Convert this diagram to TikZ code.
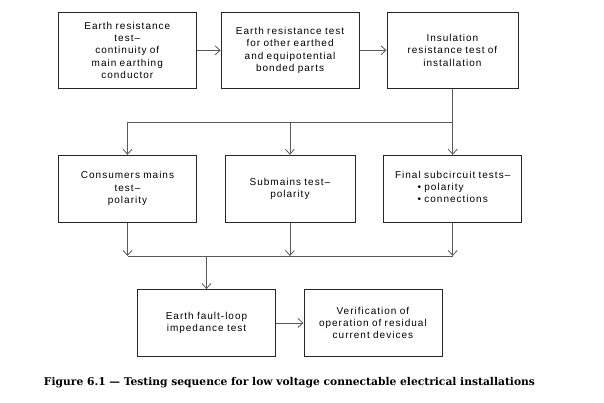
\documentclass[tikz,border=0pt]{standalone}
\usepackage{fontspec}
\setmainfont{DejaVu Serif}
\setsansfont{Liberation Sans}[LetterSpace=10]
\usetikzlibrary{arrows.meta,positioning}

\begin{document}
\begin{tikzpicture}[
    x=1pt, y=-1pt,
    node distance=27pt,
    >={Straight Barb[length=5pt, width=9pt]},
    line width=0.8pt,
    box/.style={
        rectangle, draw=black!85, text width=134pt, align=center,
        minimum width=138pt, minimum height=67pt, inner sep=2pt,
        font=\sffamily\fontsize{10}{12.3}\selectfont
    },
    tallbox/.style={box, minimum height=76pt},
    link/.style={->, draw=black!65}
]
    \useasboundingbox (0,0) rectangle (604,403);

    % first row
    \node [tallbox] (resist) at (127.3,50.3) {Earth resistance\\test--\\continuity of\\main earthing\\conductor};
    \node [tallbox, right=24pt of resist] (bonded) {Earth resistance test\\for other earthed\\and equipotential\\bonded parts};
    \node [tallbox, minimum width=131pt, text width=127pt, right=27pt of bonded] (insul) {Insulation\\resistance test of\\installation};

    % second row
    \node [box] (mains) at (127.5,188.7) {Consumers mains\\test--\\polarity};
    \node [box, minimum width=130pt, text width=126pt, right=27.6pt of mains] (submains) {Submains test--\\polarity};
    \node [box, minimum width=137pt, right=28pt of submains] (final) {Final subcircuit tests--\\
        \begin{tabular}[t]{@{}l@{}}\textbullet{} polarity\\\textbullet{} connections\end{tabular}};

    % third row
    \node [box] (loop) at (206.5,323) {Earth fault-loop\\impedance test};
    \node [box, right=27.6pt of loop] (rcd) {Verification of\\operation of residual\\current devices};

    \node [font=\bfseries\fontsize{10.7}{14}\selectfont] (caption) at (289.5,383) {Figure 6.1 --- Testing sequence for low voltage connectable electrical installations};

    % Arrows
    \draw [link] (resist) -- (bonded);
    \draw [link] (bonded) -- (insul);

    \coordinate [below=33.7pt of insul.south] (split);
    \draw [link] (insul.south) -- (split) -| (mains.north);
    \draw [link] (split -| submains.north) -- (submains.north);
    \draw [link] (split -| final.north) -- (final.north);

    \coordinate [below=33.4pt of mains.south] (merge);
    \draw [link] (mains.south) -- (merge);
    \draw [link] (submains.south) -- (submains.south |- merge);
    \draw [link] (final.south) -- (final.south |- merge);
    \draw [draw=black!65] (merge) -- (final.south |- merge);
    \draw [link] (loop.north |- merge) -- (loop.north);

    \draw [link] (loop) -- (rcd);
\end{tikzpicture}
\end{document}
